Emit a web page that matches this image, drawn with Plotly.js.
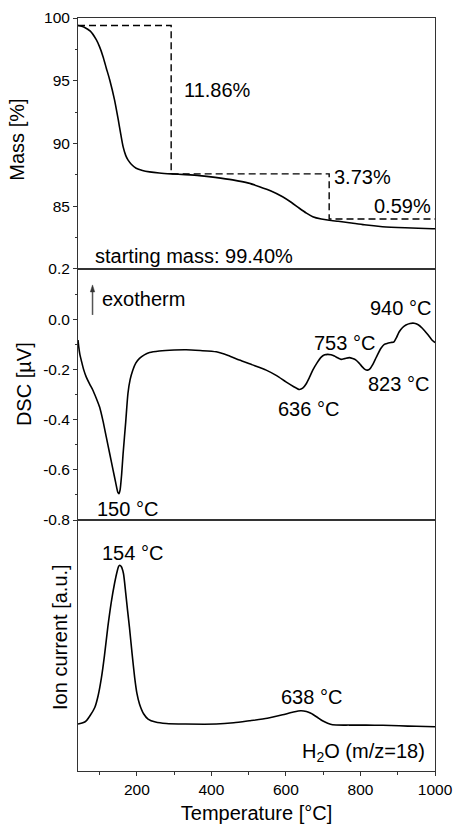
<!DOCTYPE html>
<html>
<head>
<meta charset="utf-8">
<script src="https://cdn.plot.ly/plotly-3.0.1.min.js"></script>
<style>html,body{margin:0;padding:0;background:#fff;}#chart{width:456px;height:825px;}</style>
</head>
<body>
<div id="chart"></div>
<script>
// ---- Data ----
const massT = [42,60,75,91,100,109,118,127,140,150,157,163,170,176,185,198,215,234,260,292,330,368,410,457,500,529,560,591,615,636,655,672,695,716,740,770,810,859,920,993,1000];
const massVal = [99.40,99.25,98.95,98.27,97.7,96.94,96.0,95.08,93.48,91.9,90.7,89.75,89.05,88.69,88.35,88.03,87.85,87.74,87.65,87.58,87.52,87.44,87.30,87.10,86.84,86.56,86.22,85.76,85.30,84.84,84.45,84.17,83.98,83.88,83.80,83.69,83.52,83.37,83.28,83.21,83.21];

const dscT = [42,44,47,51,57,64,73,82,91,100,109,118,127,136,143,149,152,155,159,163,170,176,182,189,197,207,220,234,260,300,332,370,413,445,475,510,547,575,600,620,636,645,654,663,672,683,694,704,712,721,730,740,748,758,770,779,788,797,805,812,819,826,832,843,855,864,873,882,890,897,904,913,922,933,944,955,966,980,993,1000];
const dscVal = [-0.083,-0.11,-0.14,-0.165,-0.2,-0.23,-0.258,-0.283,-0.315,-0.35,-0.405,-0.47,-0.535,-0.60,-0.65,-0.69,-0.695,-0.68,-0.62,-0.536,-0.41,-0.296,-0.24,-0.203,-0.175,-0.156,-0.142,-0.133,-0.127,-0.123,-0.122,-0.125,-0.13,-0.145,-0.163,-0.182,-0.203,-0.225,-0.25,-0.268,-0.28,-0.275,-0.258,-0.232,-0.203,-0.175,-0.152,-0.142,-0.14,-0.142,-0.147,-0.155,-0.16,-0.157,-0.153,-0.157,-0.163,-0.176,-0.19,-0.2,-0.203,-0.197,-0.183,-0.15,-0.116,-0.1,-0.096,-0.093,-0.09,-0.072,-0.05,-0.033,-0.023,-0.017,-0.016,-0.022,-0.036,-0.06,-0.085,-0.093];

const ionT = [42,55,64,75,87,96,105,113,122,131,140,147,151,154,158,164,170,175,180,187,194,200,207,218,230,250,279,330,413,460,502,550,591,620,640,655,667,683,698,712,725,770,815,860,904,950,1000];
const ionVal = [0.187,0.192,0.2,0.222,0.253,0.3,0.373,0.46,0.573,0.67,0.747,0.795,0.815,0.82,0.815,0.787,0.71,0.64,0.573,0.47,0.373,0.31,0.267,0.228,0.207,0.195,0.189,0.187,0.187,0.192,0.2,0.21,0.224,0.235,0.24,0.237,0.23,0.215,0.2,0.19,0.184,0.183,0.183,0.182,0.18,0.178,0.176];

// mass-loss steps (dashed construction lines)
const stepT = [42, 292, 716, 1000];
const stepMass = [99.40, 87.58, 83.98];
const stepLabels = ["11.86%", "3.73%", "0.59%"];

const xTickVals = [200, 400, 600, 800, 1000];
const massTickVals = [85, 90, 95, 100];
const massMinorVals = [82.5, 87.5, 92.5, 97.5];
const dscTickVals = [-0.8, -0.6, -0.4, -0.2, 0.0, 0.2];
const dscTickText = ["-0.8", "-0.6", "-0.4", "-0.2", "0.0", "0.2"];
const dscMinorVals = [-0.7, -0.5, -0.3, -0.1, 0.1];

const dscPeakT = [150, 636, 753, 823, 940];
const ionPeakT = [154, 638];

// ---- build step path from arrays ----
const stepX = [], stepY = [];
for (let i = 0; i < stepMass.length; i++) {
  stepX.push(stepT[i], stepT[i + 1]);
  stepY.push(stepMass[i], stepMass[i]);
  if (i + 1 < stepMass.length) { stepX.push(stepT[i + 1]); stepY.push(stepMass[i + 1]); }
}

const FONT = "Arial, 'Liberation Sans', sans-serif";
const lineCol = '#000';
const axCol = '#333';

const traces = [
  {x: massT, y: massVal, xaxis: 'x3', yaxis: 'y3', mode: 'lines', line: {color: lineCol, width: 1.6, shape: 'spline', smoothing: 0.6}, hoverinfo: 'x+y', name: 'Mass'},
  {x: stepX, y: stepY, xaxis: 'x3', yaxis: 'y3', mode: 'lines', line: {color: lineCol, width: 1.4, dash: '7px,4px'}, hoverinfo: 'skip', name: 'steps'},
  {x: dscT, y: dscVal, xaxis: 'x2', yaxis: 'y2', mode: 'lines', line: {color: lineCol, width: 1.6, shape: 'spline', smoothing: 0.6}, name: 'DSC'},
  {x: ionT, y: ionVal, xaxis: 'x', yaxis: 'y', mode: 'lines', line: {color: lineCol, width: 1.6, shape: 'spline', smoothing: 0.6}, name: 'Ion current'}
];

const xr = [42, 1000];
const tickFont = {family: FONT, size: 15.5, color: '#000'};
const baseX = {range: xr, showline: true, mirror: true, linecolor: axCol, linewidth: 1, showgrid: false, zeroline: false, fixedrange: true};

const annFont = {family: FONT, size: 20, color: '#000'};
const A = (text, x, y, xref, yref, xa, ya, extra) => Object.assign({text, x, y, xref, yref, xanchor: xa, yanchor: ya, showarrow: false, font: annFont}, extra || {});

const annotations = [
  // top
  A(stepLabels[0], 320, 94.3, 'x3', 'y3', 'left', 'middle'),
  A(stepLabels[1], 724, 87.34, 'x3', 'y3', 'left', 'middle'),
  A(stepLabels[2], 995, 85.05, 'x3', 'y3', 'right', 'middle'),
  A('starting mass: ' + stepMass[0].toFixed(2) + '%', 82, 81.05, 'x3', 'y3', 'left', 'middle'),
  // middle
  A('exotherm', 100, 0.08, 'x2', 'y2', 'left', 'middle'),
  A(dscPeakT[0] + ' °C', 174, -0.756, 'x2', 'y2', 'center', 'middle'),
  A(dscPeakT[1] + ' °C', 660, -0.356, 'x2', 'y2', 'center', 'middle'),
  A(dscPeakT[2] + ' °C', 758, -0.093, 'x2', 'y2', 'center', 'middle'),
  A(dscPeakT[3] + ' °C', 902, -0.258, 'x2', 'y2', 'center', 'middle'),
  A(dscPeakT[4] + ' °C', 908, 0.045, 'x2', 'y2', 'center', 'middle'),
  // bottom
  A(ionPeakT[0] + ' °C', 188, 0.869, 'x', 'y', 'center', 'middle'),
  A(ionPeakT[1] + ' °C', 669, 0.295, 'x', 'y', 'center', 'middle'),
  A('H<sub>2</sub>O (m/z=18)', 979, 0.072, 'x', 'y', 'right', 'middle'),
  // axis titles
  A('Mass [%]', -0.1717, 0.838, 'paper', 'paper', 'center', 'middle', {textangle: -90}),
  A('DSC [µV]', -0.1496, 0.5133, 'paper', 'paper', 'center', 'middle', {textangle: -90}),
  A('Ion current [a.u.]', -0.0504, 0.178, 'paper', 'paper', 'center', 'middle', {textangle: -90})
];

// "exotherm" arrow: shaft + head, sized in pixels, anchored at a point in the DSC panel
const shapes = [
  {type: 'line', xref: 'x2', yref: 'y2', xsizemode: 'pixel', ysizemode: 'pixel', xanchor: 81, yanchor: 0.017,
   x0: 0, x1: 0, y0: 0, y1: 25, line: {color: '#555', width: 1.5}},
  {type: 'path', xref: 'x2', yref: 'y2', xsizemode: 'pixel', ysizemode: 'pixel', xanchor: 81, yanchor: 0.017,
   path: 'M -2.2 23 L 2.2 23 L 0 30 Z', fillcolor: '#333', line: {color: '#333', width: 0.5}}
];

const layout = {
  width: 456, height: 825,
  margin: {l: 78, r: 21, t: 18, b: 54},
  paper_bgcolor: '#fff', plot_bgcolor: '#fff',
  showlegend: false,
  font: {family: FONT, color: '#000'},
  xaxis: Object.assign({}, baseX, {anchor: 'y', ticks: 'outside', ticklen: 4, tickwidth: 1, tickcolor: axCol,
    tickmode: 'array', tickvals: xTickVals, tickfont: tickFont,
    minor: {dtick: 100, tick0: 0, ticks: 'outside', ticklen: 2.5, tickwidth: 1, tickcolor: axCol},
    title: {text: 'Temperature [°C]', font: {family: FONT, size: 20, color: '#000'}, standoff: 9}}),
  xaxis2: Object.assign({}, baseX, {anchor: 'y2', matches: 'x', ticks: '', showticklabels: false}),
  xaxis3: Object.assign({}, baseX, {anchor: 'y3', matches: 'x', ticks: '', showticklabels: false}),
  yaxis: {domain: [0, 0.3333], range: [0, 1], showline: true, mirror: true, linecolor: axCol, linewidth: 1, showgrid: false, zeroline: false, ticks: '', showticklabels: false, fixedrange: true},
  yaxis2: {domain: [0.3333, 0.6667], range: [-0.8, 0.2], showline: true, mirror: true, linecolor: axCol, linewidth: 1, showgrid: false, zeroline: false,
    ticks: 'outside', ticklen: 4, tickcolor: axCol, tickmode: 'array', tickvals: dscTickVals, ticktext: dscTickText, tickfont: tickFont,
    minor: {tickmode: 'array', tickvals: dscMinorVals, ticks: 'outside', ticklen: 2.5, tickcolor: axCol}, fixedrange: true},
  yaxis3: {domain: [0.6667, 1], range: [80, 100], showline: true, mirror: true, linecolor: axCol, linewidth: 1, showgrid: false, zeroline: false,
    ticks: 'outside', ticklen: 4, tickcolor: axCol, tickmode: 'array', tickvals: massTickVals, tickfont: tickFont,
    minor: {tickmode: 'array', tickvals: massMinorVals, ticks: 'outside', ticklen: 2.5, tickcolor: axCol}, fixedrange: true},
  annotations: annotations,
  shapes: shapes
};

Plotly.newPlot('chart', traces, layout, {displayModeBar: false, staticPlot: true});
</script>
</body>
</html>
